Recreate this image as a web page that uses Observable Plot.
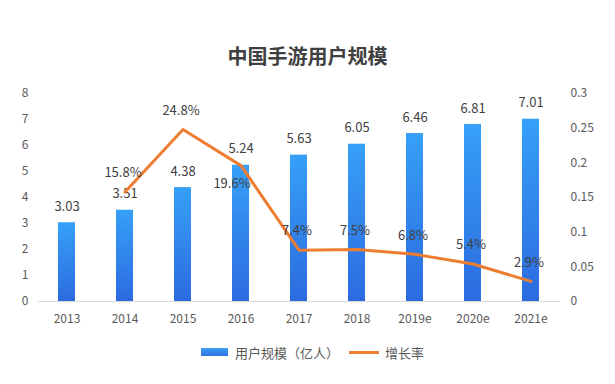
<!DOCTYPE html>
<html><head><meta charset="utf-8">
<script src="https://cdn.jsdelivr.net/npm/d3@7"></script>
<script src="https://cdn.jsdelivr.net/npm/@observablehq/plot@0.6"></script>
<style>
body{margin:0;background:#fff;font-family:"Noto Sans CJK SC","Noto Sans",sans-serif;}
#wrap{width:615px;height:384px;position:relative;overflow:hidden;}
#title{height:80px;box-sizing:border-box;padding-top:42px;text-align:center;font-size:20px;font-weight:bold;color:#404040;line-height:28px;padding-left:0;}
#legend{display:flex;align-items:center;justify-content:center;gap:0;font-size:13px;color:#595959;height:30px;margin-top:2px;padding-left:10px}
.sw{display:inline-block}
</style></head>
<body><div id="wrap">
<div id="title">中国手游用户规模</div>
<div id="chart"></div>
<div id="legend"><span class="sw" style="width:27px;height:8px;background:linear-gradient(#3a9ff6,#2e72e2);margin-right:7px"></span><span>用户规模（亿人）</span><span class="sw" style="width:30px;height:3px;background:#ed7d31;margin:0 6px 0 10px"></span><span>增长率</span></div>
</div>
<script>
const years = ["2013","2014","2015","2016","2017","2018","2019e","2020e","2021e"];
const users = [3.03,3.51,4.38,5.24,5.63,6.05,6.46,6.81,7.01];
const rateYears = ["2014","2015","2016","2017","2018","2019e","2020e","2021e"];
const rates = [0.158,0.248,0.196,0.074,0.075,0.068,0.054,0.029];
const leftTicks = [0,1,2,3,4,5,6,7,8];
const rightTicks = [0,0.05,0.1,0.15,0.2,0.25,0.3];

const k = 8/0.3;
const bars = years.map((y,i)=>({year:y,value:users[i]}));
const line = rateYears.map((y,i)=>({year:y,rate:rates[i],s:rates[i]*k,label:(rates[i]*100).toFixed(1)+"%"}));

const defs = () => {
  const d = d3.create("svg:defs");
  const g = d.append("linearGradient").attr("id","bg").attr("x1",0).attr("y1",0).attr("x2",0).attr("y2",1);
  g.append("stop").attr("offset","0%").attr("stop-color","#36a0f7");
  g.append("stop").attr("offset","100%").attr("stop-color","#2c6be0");
  return d.node();
};

const chart = Plot.plot({
  width:615, height:255,
  marginTop:13, marginBottom:34, marginLeft:38, marginRight:55,
  style:{fontFamily:'"Noto Sans CJK SC","Noto Sans",sans-serif',fontSize:"12px",color:"#595959",background:"transparent"},
  x:{domain:years, paddingInner:0.7, paddingOuter:0.35, label:null},
  y:{domain:[0,8], label:null},
  marks:[
    defs,
    Plot.axisX({tickSize:0, tickPadding:13, fontSize:12, fill:"#595959"}),
    Plot.axisY({ticks:leftTicks, tickSize:0, tickPadding:10, fontSize:12, fill:"#595959", label:null}),
    Plot.axisY({anchor:"right", ticks:rightTicks.map(v=>v*k), tickFormat:d=>d3.format("~g")(+(d/k).toFixed(3)), tickSize:0, tickPadding:10, fontSize:12, fill:"#595959", label:null}),
    Plot.barY(bars,{x:"year",y:"value",fill:"url(#bg)"}),
    Plot.ruleY([0],{stroke:"#d9d9d9"}),
    Plot.text(bars,{x:"year",y:"value",text:d=>d.value.toFixed(2),dy:-16,fontSize:13,fill:"#404040"}),
    Plot.line(line,{x:"year",y:"s",stroke:"#ed7d31",strokeWidth:3}),
    Plot.text(line.filter(d=>d.year!=="2016"),{x:"year",y:"s",text:"label",dy:-19,dx:-2,fontSize:13,fill:"#404040"}),
    Plot.text(line.filter(d=>d.year==="2016"),{x:"year",y:"s",text:"label",dy:18,dx:-9,fontSize:13,fill:"#404040"})
  ]
});
document.getElementById("chart").appendChild(chart);
</script>
</body></html>
